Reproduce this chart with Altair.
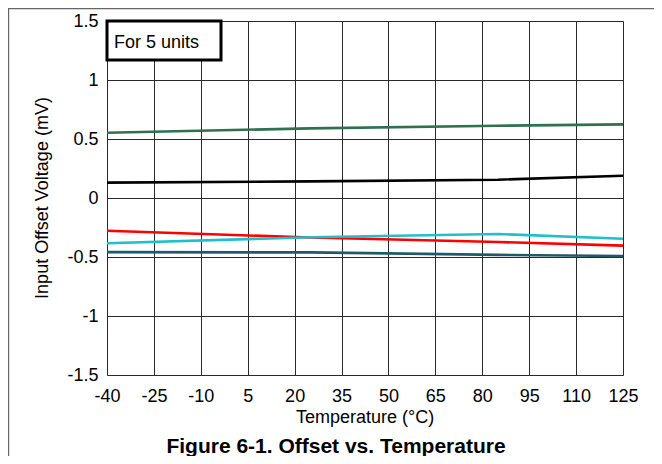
import altair as alt
import pandas as pd

# Data
temps = [-40, 25, 85, 125]
unit_1 = [0.553, 0.590, 0.612, 0.624]      # green
unit_2 = [0.130, 0.141, 0.155, 0.189]      # black
unit_3 = [-0.277, -0.335, -0.373, -0.404]  # red
unit_4 = [-0.384, -0.333, -0.305, -0.345]  # cyan
unit_5 = [-0.459, -0.461, -0.482, -0.491]  # dark teal

units = ["Unit 1", "Unit 2", "Unit 3", "Unit 4", "Unit 5"]
colors = ["#2e7050", "#000000", "#ff0000", "#1fbfcc", "#1f5a6a"]

x_ticks = [-40, -25, -10, 5, 20, 35, 50, 65, 80, 95, 110, 125]
y_ticks = [-1.5, -1, -0.5, 0, 0.5, 1, 1.5]

x_title = "Temperature (°C)"
y_title = "Input Offset Voltage (mV)"
caption = "Figure 6-1. Offset vs. Temperature"
note = "For 5 units"

rows = []
for name, vals in zip(units, [unit_1, unit_2, unit_3, unit_4, unit_5]):
    for t, v in zip(temps, vals):
        rows.append({"unit": name, "temp": t, "vos": v})
df = pd.DataFrame(rows)

W, H = 516, 354
FONT = "Liberation Sans"

lines = alt.Chart(df).mark_line(strokeWidth=2.6, clip=True).encode(
    x=alt.X("temp:Q",
            scale=alt.Scale(domain=[-40, 125], nice=False, zero=False),
            axis=alt.Axis(values=x_ticks, title=None, ticks=False, domain=False,
                          labelExpr="'' + datum.value", labelPadding=12,
                          labelFontSize=18, labelColor="#000", labelFont=FONT,
                          grid=True, gridColor="#2a2a2a", gridWidth=1,
                          labelFlush=False, labelOverlap=False)),
    y=alt.Y("vos:Q",
            scale=alt.Scale(domain=[-1.5, 1.5], nice=False, zero=False),
            axis=alt.Axis(values=y_ticks, title=None, ticks=False, domain=False,
                          labelExpr="'' + datum.value", labelPadding=9,
                          labelFontSize=18, labelColor="#000", labelFont=FONT,
                          grid=True, gridColor="#2a2a2a", gridWidth=1,
                          labelFlush=False, labelOverlap=False)),
    color=alt.Color("unit:N", scale=alt.Scale(domain=units, range=colors), legend=None),
    detail="unit:N",
)

one = pd.DataFrame({"label": [note]})

box = alt.Chart(one).mark_rect(fill="white", stroke="black", strokeWidth=3).encode(
    x=alt.value(0), x2=alt.value(114), y=alt.value(0), y2=alt.value(39)
)
box_text = alt.Chart(one).mark_text(
    align="left", baseline="alphabetic", fontSize=18, font=FONT, color="#000"
).encode(x=alt.value(7), y=alt.value(26.5), text="label:N")

xt = alt.Chart(pd.DataFrame({"label": [x_title]})).mark_text(
    align="center", baseline="alphabetic", fontSize=18, font=FONT, color="#000"
).encode(x=alt.value(W / 2), y=alt.value(402), text="label:N")

yt = alt.Chart(pd.DataFrame({"label": [y_title]})).mark_text(
    align="center", baseline="middle", angle=270, fontSize=18, font=FONT, color="#000"
).encode(x=alt.value(-64), y=alt.value(H / 2), text="label:N")

cap = alt.Chart(pd.DataFrame({"label": [caption]})).mark_text(
    align="center", baseline="alphabetic", fontSize=21, fontWeight="bold", font=FONT, color="#000"
).encode(x=alt.value(229), y=alt.value(432), text="label:N")

outer = alt.Chart(one).mark_rect(fill="transparent", stroke="#666666", strokeWidth=1.2).encode(
    x=alt.value(-98.4), x2=alt.value(800), y=alt.value(-12.4), y2=alt.value(800)
)

chart = alt.layer(lines, box, box_text, xt, yt, cap, outer).properties(
    width=W, height=H,
    autosize=alt.AutoSizeParams(type="none"),
    padding={"left": 99, "top": 13, "right": 31, "bottom": 81},
).configure_view(
    stroke="black", strokeWidth=3
).configure(background="white")

chart.save("out.html", embed_options={"renderer": "svg", "actions": False})
